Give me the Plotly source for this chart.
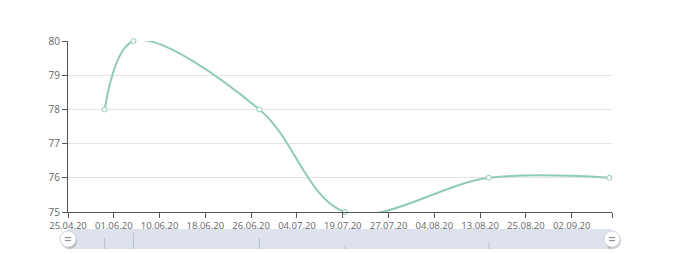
import plotly.graph_objects as go

# Tick labels of the category axis (one per label position)
tick_labels = ["25.04.20", "01.06.20", "10.06.20", "18.06.20", "26.06.20", "04.07.20",
               "19.07.20", "27.07.20", "04.08.20", "13.08.20", "25.08.20", "02.09.20"]
# data positions along the axis, in label-interval units
x_pos = [0.80, 1.43, 4.18, 6.05, 9.19, 11.82]
values = [78, 80, 78, 75, 76, 76]
x_end = 11.88

line_color = "#8fcbb5"
axis_color = "#555555"
label_color = "#666666"
font_family = "Open Sans, sans-serif"

fig = go.Figure()

# main series
fig.add_trace(go.Scatter(
    x=x_pos, y=values, mode="lines+markers",
    line=dict(color=line_color, width=2, shape="spline", smoothing=1.0),
    marker=dict(size=5, color="white", line=dict(color=line_color, width=1)),
    xaxis="x", yaxis="y", showlegend=False, hoverinfo="x+y", cliponaxis=False,
))

# data shadow inside the zoom slider
sx, sy = [], []
for xv, v in zip(x_pos, values):
    sx += [xv, xv, None]
    sy += [73.33, v, None]
fig.add_trace(go.Scatter(
    x=sx, y=sy, mode="lines",
    line=dict(color="rgba(140,150,170,0.45)", width=1),
    xaxis="x2", yaxis="y2", showlegend=False, hoverinfo="skip",
))

paper_h = 208.0
handle_y = 10 / paper_h

shapes = [
    dict(type="rect", xref="paper", yref="y2 domain", x0=0, x1=1, y0=0, y1=1,
         fillcolor="#dde2ec", line=dict(width=0), layer="below"),
]
for hx in (0, 1):
    # shadow
    shapes.append(dict(type="circle", xref="paper", yref="paper",
                       xsizemode="pixel", ysizemode="pixel", xanchor=hx, yanchor=handle_y,
                       x0=-7, x1=9, y0=-10, y1=6,
                       fillcolor="rgba(0,0,0,0.18)", line=dict(width=0), layer="above"))
    shapes.append(dict(type="circle", xref="paper", yref="paper",
                       xsizemode="pixel", ysizemode="pixel", xanchor=hx, yanchor=handle_y,
                       x0=-8, x1=8, y0=-8, y1=8,
                       fillcolor="white", line=dict(color="#d0d4dc", width=1), layer="above"))
    for dy in (-1.5, 1.5):
        shapes.append(dict(type="line", xref="paper", yref="paper",
                           xsizemode="pixel", ysizemode="pixel", xanchor=hx, yanchor=handle_y,
                           x0=-3, x1=3, y0=dy, y1=dy,
                           line=dict(color="#8a8f99", width=1.2), layer="above"))

fig.update_layout(
    width=680, height=254,
    margin=dict(l=68, r=68, t=41, b=5, autoexpand=False),
    paper_bgcolor="white", plot_bgcolor="white",
    font=dict(family=font_family, size=10, color=label_color),
    xaxis=dict(
        domain=[0, 1], anchor="y", range=[0, x_end], automargin=False,
        tickvals=list(range(len(tick_labels))) + [x_end],
        ticktext=tick_labels + [""],
        showgrid=False, zeroline=False,
        showline=True, linecolor=axis_color, linewidth=1,
        ticks="outside", ticklen=5, tickcolor=axis_color, tickwidth=1,
        tickfont=dict(size=9.5, color=label_color),
    ),
    yaxis=dict(
        domain=[37 / paper_h, 1], anchor="x", range=[75, 80], dtick=1, automargin=False,
        showgrid=True, gridcolor="#e3e3e3", gridwidth=1, zeroline=False,
        showline=True, linecolor=axis_color, linewidth=1,
        ticks="outside", ticklen=5, tickcolor=axis_color, tickwidth=1,
        tickfont=dict(size=10, color=label_color),
    ),
    xaxis2=dict(domain=[0, 1], anchor="y2", range=[0, x_end], visible=False, automargin=False),
    yaxis2=dict(domain=[0, 20 / paper_h], anchor="x2", range=[73.33, 81.67], visible=False,
                automargin=False),
    shapes=shapes,
)

fig.write_html("out.html")
